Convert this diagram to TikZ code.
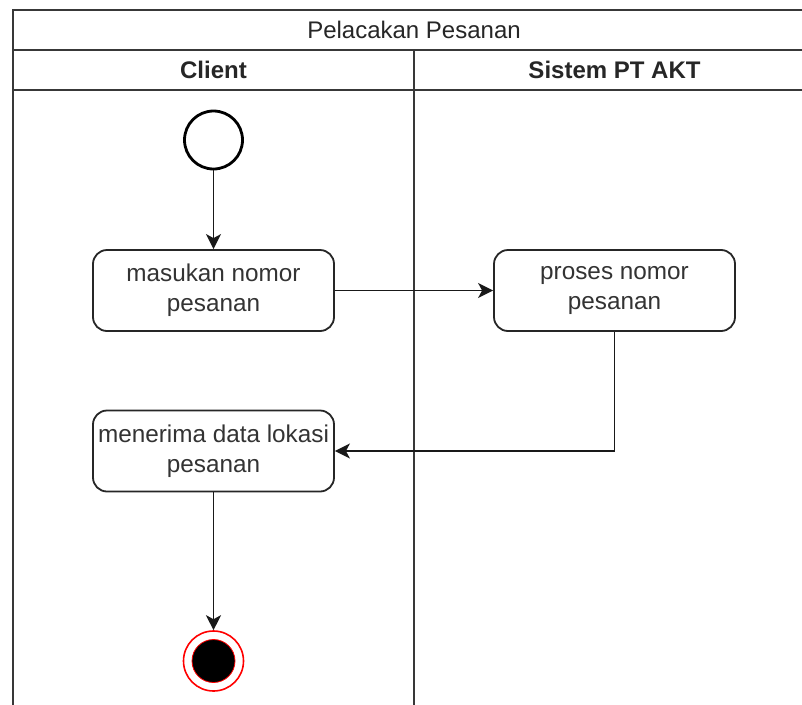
\documentclass[tikz,border=0pt]{standalone}
\usepackage{fontspec}
\setmainfont{Liberation Sans}
\usetikzlibrary{arrows.meta}

\tikzset{
  lane/.style={draw=black!78, line width=2pt},
  act/.style={draw=black!85, line width=1.8pt, rounded corners=14pt,
    minimum width=241pt, minimum height=81pt, inner sep=1pt, align=center,
    font=\fontsize{24.3}{30}\selectfont, text=black!80},
  lanetext/.style={font=\fontsize{24}{28}\selectfont, text=black!85},
  flow/.style={-{Stealth[length=15pt,width=15pt,inset=4pt]}, line width=1.9pt, black!90}
}

\begin{document}
\begin{tikzpicture}[x=1pt,y=-1pt]
    \useasboundingbox (0,0) rectangle (802,704);
    \clip (0,0) rectangle (802,704);
    % swimlane frame
    \fill[white] (0,0) rectangle (802,704);
    \draw[lane] (13,730) -- (13,10) -- (830,10);
    \draw[lane] (13,50) -- (830,50);
    \draw[lane] (13,90) -- (830,90);
    \draw[lane] (414,50) -- (414,730);
    \node[lanetext] (title) at (414,30) {Pelacakan Pesanan};
    \node[lanetext, font=\fontsize{24}{28}\bfseries] (client) at (213.5,70) {Client};
    \node[lanetext, font=\fontsize{24}{28}\bfseries] (sistem) at (614.5,70) {Sistem PT AKT};
    % start and end states
    \node[circle, draw=black, line width=2.8pt, minimum size=58pt, inner sep=0pt] (start) at (213.5,140) {};
    \node[circle, draw=red, line width=1.6pt, fill=white, minimum size=60pt, inner sep=0pt] (end) at (213.5,661) {};
    \node[circle, draw=red, line width=0.8pt, fill=black, minimum size=43pt, inner sep=0pt] (endin) at (end) {};
    % activities
    \node[act] (masukan) at (213.5,290.5) {masukan nomor\\pesanan};
    \node[act] (proses) at (614.5,290.5) {proses nomor\\pesanan};
    \node[act] (terima) at (213.5,451) {menerima data lokasi\\pesanan};
    % flows
    \draw[flow] (start) -- (masukan);
    \draw[flow] (masukan) -- (proses);
    \draw[flow] (proses.south) |- (terima.east);
    \draw[flow] (terima) -- (end);
\end{tikzpicture}
\end{document}
